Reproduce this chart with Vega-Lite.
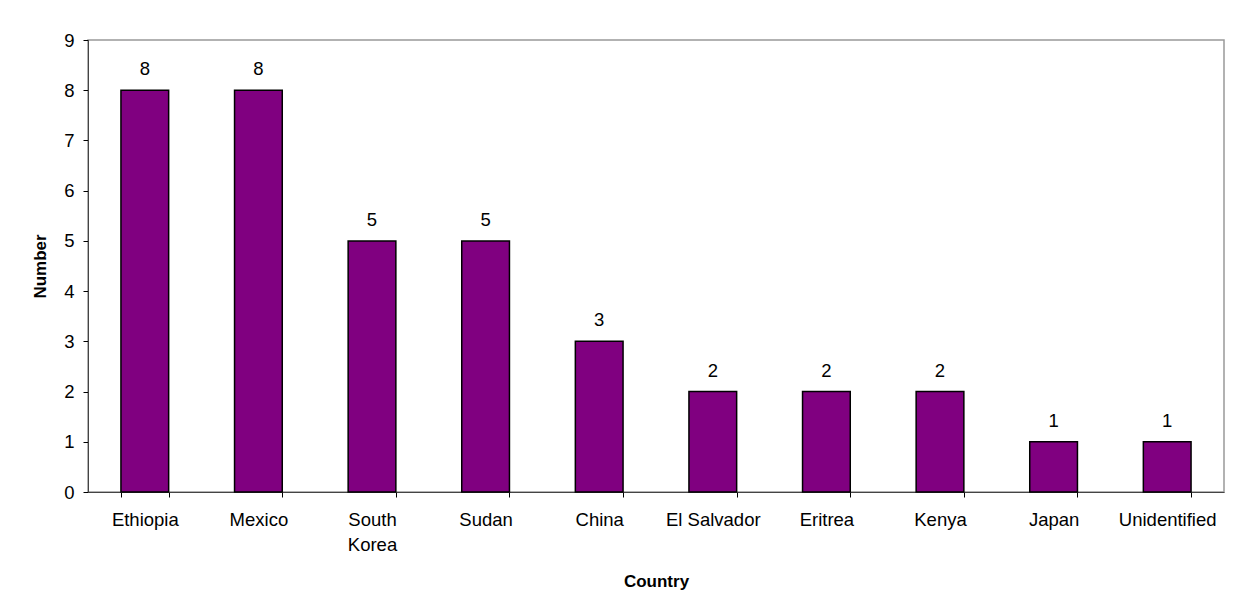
{
  "$schema": "https://vega.github.io/schema/vega-lite/v6.json",
  "autosize": "none",
  "width": 1136,
  "height": 452,
  "padding": {"left": 88, "top": 40, "right": 20, "bottom": 121},
  "background": "white",
  "data": {
    "values": [
      {"country": "Ethiopia", "number": 8},
      {"country": "Mexico", "number": 8},
      {"country": "South Korea", "number": 5},
      {"country": "Sudan", "number": 5},
      {"country": "China", "number": 3},
      {"country": "El Salvador", "number": 2},
      {"country": "Eritrea", "number": 2},
      {"country": "Kenya", "number": 2},
      {"country": "Japan", "number": 1},
      {"country": "Unidentified", "number": 1}
    ]
  },
  "config": {
    "font": "Liberation Sans",
    "view": {"stroke": "#999999", "strokeWidth": 1.5},
    "axis": {
      "labelFont": "Liberation Sans",
      "titleFont": "Liberation Sans",
      "labelFontSize": 18.5,
      "labelColor": "#000",
      "titleFontSize": 17,
      "titleFontWeight": "bold",
      "titleColor": "#000",
      "domainColor": "#444",
      "tickColor": "#000",
      "tickSize": 5,
      "grid": false,
      "labelOverlap": false,
      "labelFlush": false,
      "labelBound": false
    }
  },
  "encoding": {
    "x": {
      "field": "country",
      "type": "nominal",
      "sort": null,
      "scale": {"paddingInner": 0.58, "paddingOuter": 0.29},
      "axis": {
        "title": "Country",
        "labelAngle": 0,
        "tickBand": "extent",
        "labelPadding": 13,
        "labelLineHeight": 25,
        "labelExpr": "datum.value == 'South Korea' ? ['South', 'Korea'] : datum.value",
        "titlePadding": 20
      }
    },
    "y": {
      "field": "number",
      "type": "quantitative",
      "scale": {"domain": [0, 9], "nice": false},
      "axis": {
        "title": "Number",
        "values": [0, 1, 2, 3, 4, 5, 6, 7, 8, 9],
        "labelPadding": 9,
        "titlePadding": 14
      }
    }
  },
  "layer": [
    {
      "mark": {"type": "bar", "color": "#800080", "stroke": "#000", "strokeWidth": 1.5}
    },
    {
      "mark": {"type": "text", "dy": -15, "baseline": "alphabetic", "fontSize": 18.5, "font": "Liberation Sans", "color": "#000"},
      "encoding": {"text": {"field": "number", "type": "quantitative"}}
    }
  ]
}
